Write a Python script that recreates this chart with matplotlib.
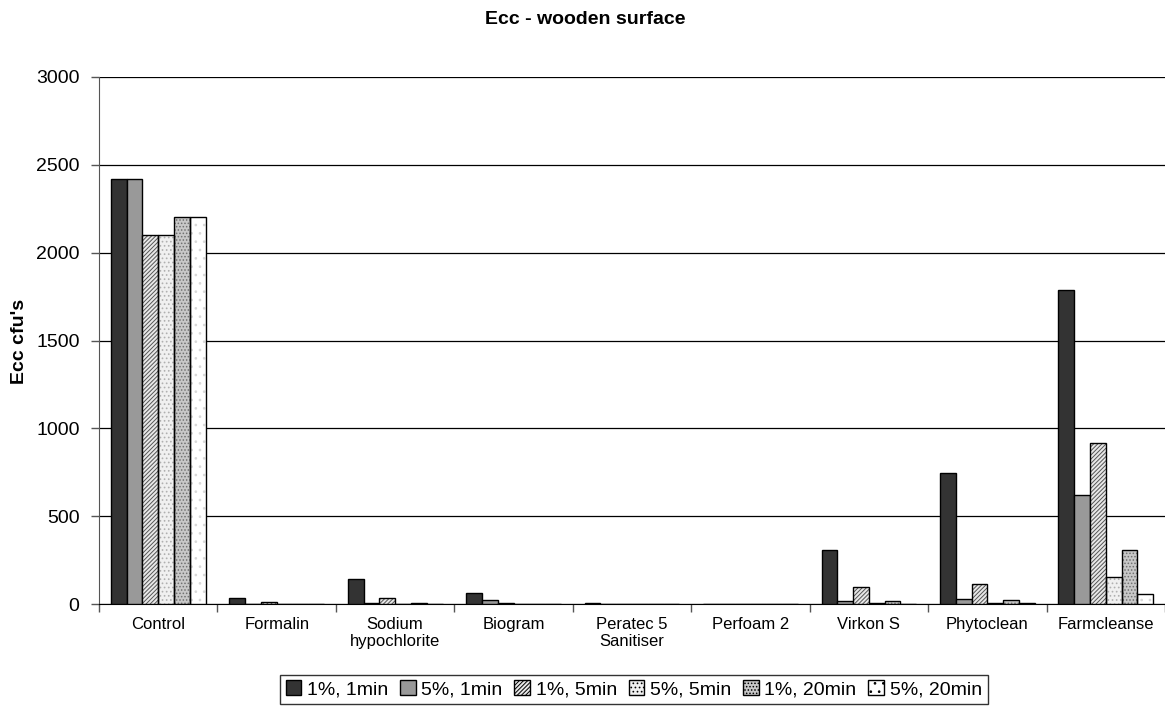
import numpy as np
import matplotlib
matplotlib.use("Agg")
import matplotlib.pyplot as plt
from matplotlib.patches import Patch

plt.rcParams['font.family'] = ['Liberation Sans', 'DejaVu Sans']
plt.rcParams['hatch.linewidth'] = 0.7

# categories and series
categories = ['Control', 'Formalin', 'Sodium\nhypochlorite', 'Biogram', 'Peratec 5\nSanitiser',
              'Perfoam 2', 'Virkon S', 'Phytoclean', 'Farmcleanse']
series_names = ['1%, 1min', '5%, 1min', '1%, 5min', '5%, 5min', '1%, 20min', '5%, 20min']

pct1_1min = [2420, 35, 140, 65, 6, 3, 305, 745, 1785]
pct5_1min = [2420, 0, 8, 22, 0, 0, 15, 28, 620]
pct1_5min = [2100, 12, 35, 6, 0, 0, 98, 115, 918]
pct5_5min = [2100, 0, 0, 2, 0, 0, 4, 6, 152]
pct1_20min = [2205, 0, 5, 0, 0, 0, 15, 22, 308]
pct5_20min = [2205, 0, 0, 0, 0, 0, 0, 4, 60]

all_series = [pct1_1min, pct5_1min, pct1_5min, pct5_5min, pct1_20min, pct5_20min]

# fill colour, hatch, hatch colour for each series
styles = [
    ('#333333', None, None),
    ('#999999', None, None),
    ('#e8e8e8', '////////', '#555555'),
    ('#f0f0f0', '....', '#b0b0b0'),
    ('#c8c8c8', '.....', '#707070'),
    ('#ffffff', '..', '#d8d8d8'),
]

fig = plt.figure(figsize=(11.65, 7.09), dpi=100)
ax = fig.add_axes([0.085, 0.148, 0.915, 0.7434])

x = np.arange(len(categories))
w = 0.8 / 6

for i, (vals, (fc, hatch, hc)) in enumerate(zip(all_series, styles)):
    pos = x + (i - 2.5) * w
    if hatch:
        ax.bar(pos, vals, w, color=fc, hatch=hatch, edgecolor=hc, linewidth=0, zorder=3)
        ax.bar(pos, vals, w, fill=False, edgecolor='black', linewidth=1.0, zorder=4)
    else:
        ax.bar(pos, vals, w, color=fc, edgecolor='black', linewidth=1.0, zorder=3)

ax.set_xlim(-0.5, len(categories) - 0.5)
ax.set_ylim(0, 3000)
ax.set_yticks(np.arange(0, 3001, 500))
ax.yaxis.grid(True, color='black', linewidth=0.9, zorder=0)
ax.set_axisbelow(True)

ax.set_xticks(x)
ax.set_xticklabels(categories, fontsize=12)
ax.set_xticks(np.arange(-0.5, len(categories) - 0.4, 1), minor=True)
ax.tick_params(axis='x', which='major', length=0, pad=9)
ax.tick_params(axis='x', which='minor', length=6, width=1, color='#555555')
ax.tick_params(axis='y', length=6, width=1, labelsize=14, pad=8, color='#555555')

for s in ['top', 'right']:
    ax.spines[s].set_visible(False)
ax.spines['left'].set_color('#555555')
ax.spines['bottom'].set_color('black')

fig.text(0.502, 0.973, 'Ecc - wooden surface', ha='center', va='center',
         fontsize=14, fontweight='bold')
fig.text(0.017, 0.518, "Ecc cfu's", ha='center', va='center', rotation=90,
         fontsize=14, fontweight='bold')

handles = []
for fc, hatch, hc in styles:
    handles.append(Patch(facecolor=fc, edgecolor='black', hatch=hatch, linewidth=1.0))
leg = fig.legend(handles, series_names, loc='center', bbox_to_anchor=(0.544, 0.0275),
                 ncol=6, fontsize=14, frameon=True, fancybox=False, edgecolor='black',
                 handlelength=0.8, handleheight=0.8, handletextpad=0.3, columnspacing=0.6,
                 borderpad=0.3)
leg.get_frame().set_linewidth(1.0)

fig.savefig('out.png', dpi=100)
